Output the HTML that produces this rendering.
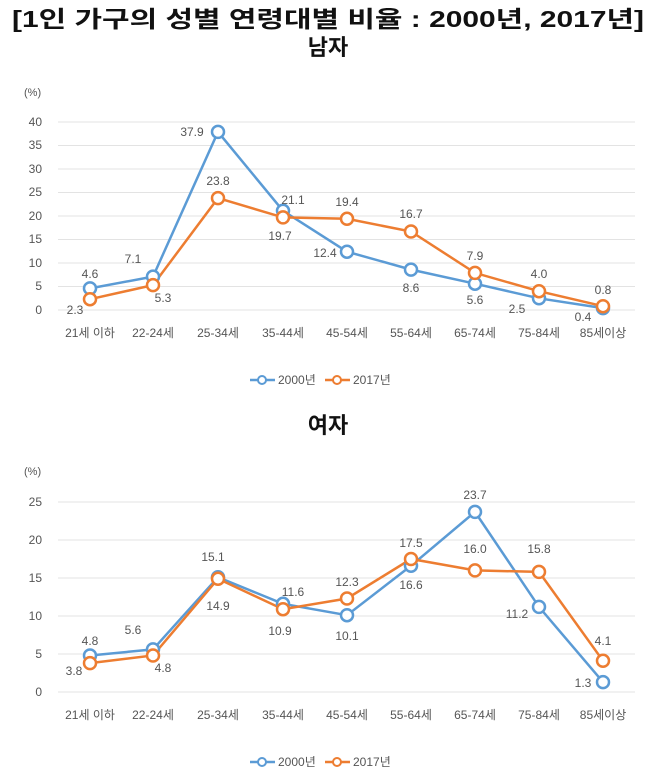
<!DOCTYPE html>
<html><head><meta charset="utf-8"><style>
body{margin:0;background:#fff;}
text{font-family:"Liberation Sans","Noto Sans CJK KR",sans-serif;}
</style></head><body>
<svg width="657" height="777" viewBox="0 0 657 777" xmlns="http://www.w3.org/2000/svg">
<text x="12" y="27" textLength="632" lengthAdjust="spacingAndGlyphs" font-size="23" font-weight="bold" fill="#111">[1인 가구의 성별 연령대별 비율 : 2000년, 2017년]</text>
<text x="328" y="55" text-anchor="middle" font-size="22" font-weight="bold" fill="#111">남자</text>
<text x="328" y="433" text-anchor="middle" font-size="22" font-weight="bold" fill="#111">여자</text>
<g font-size="12" fill="#555">
<text x="24" y="96" font-size="11">(%)</text>
<g stroke="#e3e3e3" stroke-width="1">
<line x1="58" x2="635" y1="122" y2="122"/><line x1="58" x2="635" y1="145.5" y2="145.5"/><line x1="58" x2="635" y1="169" y2="169"/><line x1="58" x2="635" y1="192.5" y2="192.5"/><line x1="58" x2="635" y1="216" y2="216"/><line x1="58" x2="635" y1="239.5" y2="239.5"/><line x1="58" x2="635" y1="263" y2="263"/><line x1="58" x2="635" y1="286.5" y2="286.5"/><line x1="58" x2="635" y1="310" y2="310"/>
</g>
<g text-anchor="end">
<text x="42" y="126">40</text><text x="42" y="149">35</text><text x="42" y="173">30</text><text x="42" y="196">25</text><text x="42" y="220">20</text><text x="42" y="243">15</text><text x="42" y="267">10</text><text x="42" y="290">5</text><text x="42" y="314">0</text>
</g>
<g text-anchor="middle">
<text x="90" y="337">21세 이하</text><text x="153" y="337">22-24세</text><text x="218" y="337">25-34세</text><text x="283" y="337">35-44세</text><text x="347" y="337">45-54세</text><text x="411" y="337">55-64세</text><text x="475" y="337">65-74세</text><text x="539" y="337">75-84세</text><text x="603" y="337">85세이상</text>
</g>
<polyline fill="none" stroke="#5b9bd5" stroke-width="2.5" points="90,288.4 153,276.6 218,131.9 283,210.8 347,251.7 411,269.6 475,283.7 539,298.3 603,308.1"/>
<polyline fill="none" stroke="#ed7d31" stroke-width="2.5" points="90,299.2 153,285.1 218,198.1 283,217.4 347,218.8 411,231.5 475,272.9 539,291.2 603,306.2"/>
<g fill="#fff" stroke="#5b9bd5" stroke-width="2.5">
<circle cx="90" cy="288.4" r="6"/><circle cx="153" cy="276.6" r="6"/><circle cx="218" cy="131.9" r="6"/><circle cx="283" cy="210.8" r="6"/><circle cx="347" cy="251.7" r="6"/><circle cx="411" cy="269.6" r="6"/><circle cx="475" cy="283.7" r="6"/><circle cx="539" cy="298.3" r="6"/><circle cx="603" cy="308.1" r="6"/></g>
<g fill="#fff" stroke="#ed7d31" stroke-width="2.5">
<circle cx="90" cy="299.2" r="6"/><circle cx="153" cy="285.1" r="6"/><circle cx="218" cy="198.1" r="6"/><circle cx="283" cy="217.4" r="6"/><circle cx="347" cy="218.8" r="6"/><circle cx="411" cy="231.5" r="6"/><circle cx="475" cy="272.9" r="6"/><circle cx="539" cy="291.2" r="6"/><circle cx="603" cy="306.2" r="6"/></g>
<text x="90" y="278" text-anchor="middle">4.6</text><text x="75" y="314" text-anchor="middle">2.3</text>
<text x="133" y="263" text-anchor="middle">7.1</text><text x="163" y="302" text-anchor="middle">5.3</text>
<text x="192" y="136" text-anchor="middle">37.9</text><text x="218" y="185" text-anchor="middle">23.8</text>
<text x="293" y="204" text-anchor="middle">21.1</text><text x="280" y="240" text-anchor="middle">19.7</text>
<text x="325" y="257" text-anchor="middle">12.4</text><text x="347" y="206" text-anchor="middle">19.4</text>
<text x="411" y="292" text-anchor="middle">8.6</text><text x="411" y="218" text-anchor="middle">16.7</text>
<text x="475" y="304" text-anchor="middle">5.6</text><text x="475" y="260" text-anchor="middle">7.9</text>
<text x="517" y="313" text-anchor="middle">2.5</text><text x="539" y="278" text-anchor="middle">4.0</text>
<text x="583" y="321" text-anchor="middle">0.4</text><text x="603" y="294" text-anchor="middle">0.8</text>
<line x1="250" x2="275" y1="380" y2="380" stroke="#5b9bd5" stroke-width="2.5"/><circle cx="262" cy="380" r="4" fill="#fff" stroke="#5b9bd5" stroke-width="2"/>
<text x="278" y="384">2000년</text>
<line x1="325" x2="350" y1="380" y2="380" stroke="#ed7d31" stroke-width="2.5"/><circle cx="337" cy="380" r="4" fill="#fff" stroke="#ed7d31" stroke-width="2"/>
<text x="353" y="384">2017년</text>

<text x="24" y="475" font-size="11">(%)</text>
<g stroke="#e3e3e3" stroke-width="1">
<line x1="58" x2="635" y1="502" y2="502"/><line x1="58" x2="635" y1="540" y2="540"/><line x1="58" x2="635" y1="578" y2="578"/><line x1="58" x2="635" y1="616" y2="616"/><line x1="58" x2="635" y1="654" y2="654"/><line x1="58" x2="635" y1="692" y2="692"/>
</g>
<g text-anchor="end">
<text x="42" y="506">25</text><text x="42" y="544">20</text><text x="42" y="582">15</text><text x="42" y="620">10</text><text x="42" y="658">5</text><text x="42" y="696">0</text>
</g>
<g text-anchor="middle">
<text x="90" y="719">21세 이하</text><text x="153" y="719">22-24세</text><text x="218" y="719">25-34세</text><text x="283" y="719">35-44세</text><text x="347" y="719">45-54세</text><text x="411" y="719">55-64세</text><text x="475" y="719">65-74세</text><text x="539" y="719">75-84세</text><text x="603" y="719">85세이상</text>
</g>
<polyline fill="none" stroke="#5b9bd5" stroke-width="2.5" points="90,655.5 153,649.4 218,577.2 283,603.8 347,615.2 411,565.8 475,511.9 539,606.9 603,682.1"/>
<polyline fill="none" stroke="#ed7d31" stroke-width="2.5" points="90,663.1 153,655.5 218,578.8 283,609.2 347,598.5 411,559 475,570.4 539,571.9 603,660.8"/>
<g fill="#fff" stroke="#5b9bd5" stroke-width="2.5">
<circle cx="90" cy="655.5" r="6"/><circle cx="153" cy="649.4" r="6"/><circle cx="218" cy="577.2" r="6"/><circle cx="283" cy="603.8" r="6"/><circle cx="347" cy="615.2" r="6"/><circle cx="411" cy="565.8" r="6"/><circle cx="475" cy="511.9" r="6"/><circle cx="539" cy="606.9" r="6"/><circle cx="603" cy="682.1" r="6"/></g>
<g fill="#fff" stroke="#ed7d31" stroke-width="2.5">
<circle cx="90" cy="663.1" r="6"/><circle cx="153" cy="655.5" r="6"/><circle cx="218" cy="578.8" r="6"/><circle cx="283" cy="609.2" r="6"/><circle cx="347" cy="598.5" r="6"/><circle cx="411" cy="559" r="6"/><circle cx="475" cy="570.4" r="6"/><circle cx="539" cy="571.9" r="6"/><circle cx="603" cy="660.8" r="6"/></g>
<text x="90" y="645" text-anchor="middle">4.8</text><text x="74" y="675" text-anchor="middle">3.8</text>
<text x="133" y="634" text-anchor="middle">5.6</text><text x="163" y="672" text-anchor="middle">4.8</text>
<text x="213" y="561" text-anchor="middle">15.1</text><text x="218" y="610" text-anchor="middle">14.9</text>
<text x="293" y="596" text-anchor="middle">11.6</text><text x="280" y="635" text-anchor="middle">10.9</text>
<text x="347" y="640" text-anchor="middle">10.1</text><text x="347" y="586" text-anchor="middle">12.3</text>
<text x="411" y="589" text-anchor="middle">16.6</text><text x="411" y="547" text-anchor="middle">17.5</text>
<text x="475" y="499" text-anchor="middle">23.7</text><text x="475" y="553" text-anchor="middle">16.0</text>
<text x="517" y="618" text-anchor="middle">11.2</text><text x="539" y="553" text-anchor="middle">15.8</text>
<text x="583" y="687" text-anchor="middle">1.3</text><text x="603" y="645" text-anchor="middle">4.1</text>
<line x1="250" x2="275" y1="762" y2="762" stroke="#5b9bd5" stroke-width="2.5"/><circle cx="262" cy="762" r="4" fill="#fff" stroke="#5b9bd5" stroke-width="2"/>
<text x="278" y="766">2000년</text>
<line x1="325" x2="350" y1="762" y2="762" stroke="#ed7d31" stroke-width="2.5"/><circle cx="337" cy="762" r="4" fill="#fff" stroke="#ed7d31" stroke-width="2"/>
<text x="353" y="766">2017년</text>
</g>
</svg>
</body></html>
